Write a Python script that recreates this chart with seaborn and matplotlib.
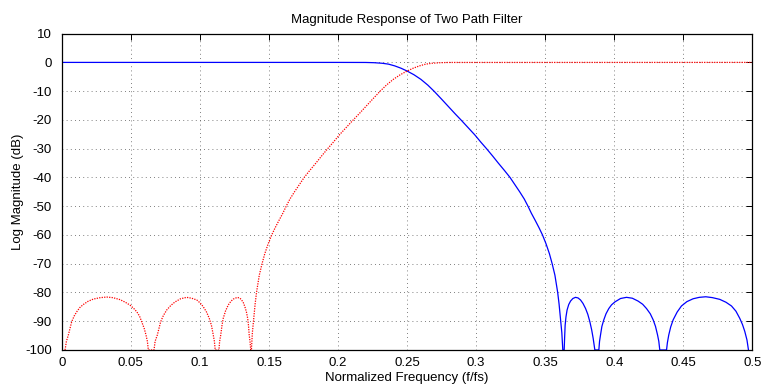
import matplotlib
matplotlib.use("Agg")
import matplotlib.pyplot as plt
import seaborn as sns
import pandas as pd

# Lowpass path (blue): normalized frequency and log magnitude in dB
lowpass_freq = [
    0.0, 0.2, 0.220, 0.226, 0.232, 0.2365, 0.241, 0.2455, 0.250, 0.255, 0.260,
    0.265, 0.2695, 0.275, 0.280, 0.285, 0.289, 0.294, 0.299, 0.3035, 0.3075,
    0.312, 0.316, 0.3205, 0.3245, 0.328, 0.3315, 0.3348, 0.3375, 0.340, 0.3428,
    0.3455, 0.348, 0.3505, 0.353, 0.355, 0.357, 0.359, 0.360, 0.361, 0.362, 0.3627,
    # first stopband lobe
    0.3637, 0.3640, 0.3644, 0.3650, 0.3658, 0.3670, 0.3683, 0.3700, 0.3719,
    0.3737, 0.3755, 0.3773, 0.3792, 0.3808, 0.3823, 0.3836, 0.3847, 0.3859,
    # second stopband lobe
    0.3888, 0.3893, 0.3900, 0.3910, 0.3924, 0.3940, 0.3960, 0.3980, 0.4004,
    0.4045, 0.4088, 0.4130, 0.4172, 0.4205, 0.4233, 0.4260, 0.4281, 0.4298,
    0.4313, 0.4322, 0.4329,
    # third stopband lobe
    0.4378, 0.4384, 0.4394, 0.4408, 0.4426, 0.4455, 0.4486, 0.4525, 0.4570,
    0.4615, 0.4662, 0.4710, 0.4763, 0.4808, 0.4848, 0.4880, 0.4908, 0.4928,
    0.4944, 0.4960, 0.4971,
]
lowpass_db = [
    0.0, 0.0, -0.02, -0.1, -0.3, -0.6, -1.2, -2.0, -3.0, -4.3, -5.9,
    -7.9, -10.0, -12.8, -15.4, -18.0, -20.0, -22.6, -25.2, -27.8, -30.0,
    -32.6, -35.0, -37.6, -40.0, -42.5, -45.0, -47.5, -50.0, -52.5, -55.0,
    -57.5, -60.0, -63.0, -66.5, -70.0, -74.0, -80.0, -84.0, -89.0, -94.0, -100.0,
    -100.0, -96.0, -91.4, -88.5, -86.1, -84.2, -83.0, -82.1, -81.7,
    -81.9, -82.6, -83.8, -85.6, -87.6, -90.2, -93.0, -96.0, -100.0,
    -100.0, -97.0, -94.8, -91.8, -89.5, -87.4, -85.6, -84.3, -83.3,
    -82.1, -81.7, -82.0, -83.0, -84.1, -85.6, -87.4, -89.5, -91.8,
    -94.8, -97.0, -100.0,
    -100.0, -97.5, -94.8, -92.0, -89.5, -86.8, -84.7, -83.2, -82.2,
    -81.7, -81.5, -81.8, -82.4, -83.4, -84.7, -86.5, -89.0, -91.2,
    -93.5, -96.5, -100.0,
]

# Highpass path (red): normalized frequency and log magnitude in dB
highpass_freq = [
    # first stopband lobe
    0.0024, 0.0034, 0.0048, 0.0072, 0.0090, 0.0109, 0.0130, 0.0156, 0.0190,
    0.0229, 0.0280, 0.0326, 0.0370, 0.0422, 0.0460, 0.0494, 0.0520, 0.0543,
    0.0563, 0.0579, 0.0597, 0.0610, 0.0620, 0.0627,
    # second stopband lobe
    0.0668, 0.0676, 0.0692, 0.0716, 0.0736, 0.0760, 0.0790, 0.0820, 0.0860,
    0.0904, 0.0940, 0.0977, 0.1003, 0.1025, 0.1048, 0.1068, 0.1084, 0.1097,
    0.1105, 0.1111,
    # third stopband lobe
    0.1138, 0.1143, 0.1151, 0.1160, 0.1169, 0.1186, 0.1205, 0.1224, 0.1242,
    0.1271, 0.1290, 0.1302, 0.1315, 0.1326, 0.1337, 0.1346, 0.1352, 0.1357,
    0.1363, 0.1368,
    # transition band and passband
    0.1373, 0.1380, 0.1390, 0.1400, 0.1410, 0.1430, 0.1450, 0.1470, 0.1495,
    0.1520, 0.1545, 0.1572, 0.1600, 0.1625, 0.1652, 0.1685, 0.1720, 0.1755,
    0.1795, 0.1840, 0.1880, 0.1925, 0.1965, 0.2010, 0.2060, 0.2110, 0.2150,
    0.2200, 0.2250, 0.2305, 0.2350, 0.2400, 0.2450, 0.2500, 0.2545, 0.2590,
    0.2635, 0.2680, 0.2740, 0.2800, 0.5,
]
highpass_db = [
    -100.0, -97.0, -94.8, -90.2, -88.2, -86.7, -85.3, -84.2, -83.1,
    -82.3, -81.8, -81.6, -81.8, -82.5, -83.4, -84.4, -85.5, -86.7,
    -88.2, -90.2, -92.5, -94.8, -97.0, -100.0,
    -100.0, -97.0, -94.8, -90.2, -88.0, -86.1, -84.5, -83.3, -82.2,
    -81.7, -82.0, -82.6, -83.7, -85.0, -86.8, -89.0, -91.5, -94.8,
    -97.0, -100.0,
    -100.0, -97.0, -94.8, -91.5, -89.0, -86.4, -84.4, -83.1, -82.3,
    -81.7, -82.0, -82.6, -83.6, -85.0, -86.8, -89.0, -91.5, -94.8,
    -97.0, -100.0,
    -100.0, -94.0, -89.0, -84.0, -80.0, -74.0, -70.0, -66.5, -63.0,
    -60.0, -57.5, -55.0, -52.5, -50.0, -47.5, -45.0, -42.5, -40.0,
    -37.6, -35.0, -32.6, -30.0, -27.8, -25.2, -22.6, -20.0, -18.0,
    -15.4, -12.8, -10.0, -7.9, -5.9, -4.3, -3.0, -2.0, -1.2,
    -0.6, -0.3, -0.1, -0.02, 0.0,
]

x_ticks = [0, 0.05, 0.1, 0.15, 0.2, 0.25, 0.3, 0.35, 0.4, 0.45, 0.5]
x_tick_labels = ["0", "0.05", "0.1", "0.15", "0.2", "0.25", "0.3", "0.35", "0.4", "0.45", "0.5"]
y_ticks = [-100, -90, -80, -70, -60, -50, -40, -30, -20, -10, 0, 10]

sns.set_style("white")
plt.rcParams["font.family"] = ["Liberation Sans", "DejaVu Sans"]

lowpass = pd.DataFrame({"freq": lowpass_freq, "db": lowpass_db})
highpass = pd.DataFrame({"freq": highpass_freq, "db": highpass_db})

fig = plt.figure(figsize=(7.62, 3.85), dpi=100)
ax = fig.add_axes([0.081, 0.091, 0.9065, 0.8216])

sns.lineplot(data=lowpass, x="freq", y="db", ax=ax, sort=False, estimator=None,
             color="#0000ff", linewidth=0.9)
sns.lineplot(data=highpass, x="freq", y="db", ax=ax, sort=False, estimator=None,
             color="#ff0000", linewidth=0.9)
ax.lines[-1].set_linestyle((0, (1, 1)))

ax.set_xlim(0, 0.5)
ax.set_ylim(-100, 10)
ax.set_xticks(x_ticks)
ax.set_xticklabels(x_tick_labels)
ax.set_yticks(y_ticks)
ax.set_yticklabels([str(v) for v in y_ticks])

ax.grid(True, color="#555555", linestyle=(0, (1, 4)), linewidth=0.6)
for side in ["top", "right", "bottom", "left"]:
    ax.spines[side].set_visible(True)
    ax.spines[side].set_color("black")
    ax.spines[side].set_linewidth(0.9)
    ax.spines[side].set_zorder(3)

ax.tick_params(axis="both", direction="in", top=True, right=True, length=4,
               width=0.7, color="black", labelsize=9.5, labelcolor="black")
ax.tick_params(axis="x", pad=5)
ax.tick_params(axis="y", pad=7)

ax.set_title("Magnitude Response of Two Path Filter", fontsize=9.5, pad=8, color="black")
ax.set_xlabel("Normalized Frequency (f/fs)", fontsize=9.5, color="black")
ax.set_ylabel("Log Magnitude (dB)", fontsize=9.5, color="black")
ax.xaxis.set_label_coords(0.5, -0.069)
ax.yaxis.set_label_coords(-0.055, 0.5)

fig.savefig("out.png", dpi=100)
